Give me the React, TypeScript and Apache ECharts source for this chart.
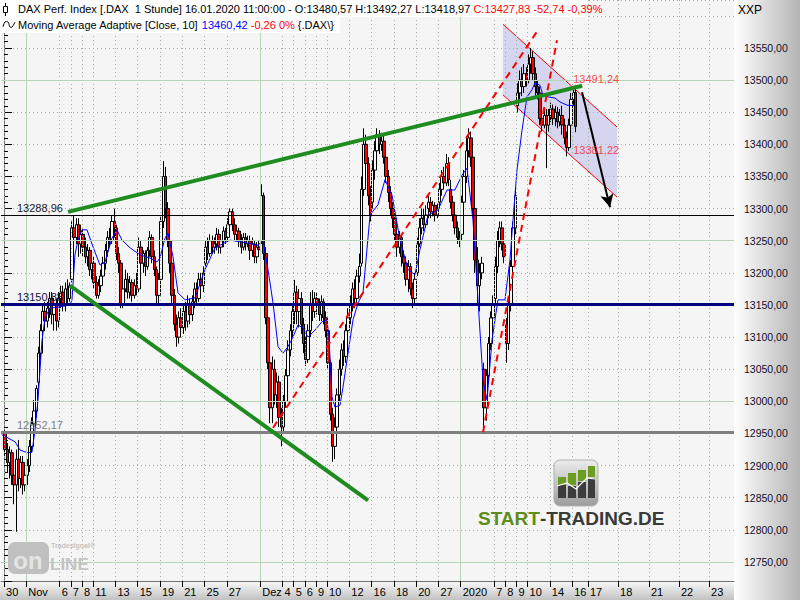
import React, { useEffect, useRef } from "react";
import * as echarts from "echarts";

const BARS_PER_DAY = 5;
const FONT = '"Liberation Sans", Arial, sans-serif';

// x axis: trading-day index (0 = 30 Oct 2019)
const tickDays = [0, 2, 5, 6, 7, 8, 10, 12, 14, 16, 18, 20, 23, 25, 26, 27, 28, 29, 31, 33, 35, 37, 39, 41, 44, 45, 46, 47, 49, 51, 52.42, 55.12, 57.89, 60.59, 63.29];
const tickLabels = ["30", "Nov", "6", "7", "8", "11", "13", "15", "19", "21", "25", "27", "Dez", "4", "5", "6", "9", "10", "12", "16", "18", "20", "27", "2020", "7", "8", "9", "10", "14", "16", "17", "18", "21", "22", "23"];
const monthTickDays = [2, 23, 41];
const majorLevels = [12750, 13000, 13250, 13500];

// hourly candles [open, close, low, high], 5 per trading day
const candles = [
  // 30 Oct
  [12950, 12925, 12915, 12955], [12925, 12905, 12890, 12935], [12905, 12920, 12880, 12930], [12920, 12885, 12870, 12925], [12885, 12870, 12840, 12900],
  // 31 Oct
  [12870, 12910, 12797, 12925], [12910, 12880, 12860, 12940], [12880, 12905, 12865, 12915], [12905, 12870, 12855, 12915], [12870, 12885, 12860, 12900],
  // 1 Nov
  [12885, 12900, 12870, 12910], [12900, 12930, 12890, 12940], [12930, 12965, 12920, 12975], [12965, 12985, 12950, 13002], [12985, 13020, 12975, 13025],
  // 4 Nov
  [13030, 13075, 13020, 13085], [13075, 13110, 13065, 13120], [13110, 13140, 13100, 13150], [13140, 13125, 13110, 13155], [13125, 13145, 13115, 13155],
  // 5 Nov
  [13145, 13160, 13130, 13170], [13160, 13135, 13120, 13170], [13135, 13150, 13110, 13160], [13150, 13125, 13110, 13160], [13125, 13160, 13115, 13170],
  // 6 Nov
  [13160, 13170, 13145, 13180], [13170, 13150, 13140, 13180], [13150, 13175, 13140, 13185], [13175, 13160, 13150, 13190], [13160, 13180, 13155, 13185],
  // 7 Nov
  [13190, 13270, 13185, 13280], [13270, 13255, 13240, 13289], [13255, 13275, 13245, 13285], [13275, 13245, 13225, 13285], [13245, 13260, 13230, 13275],
  // 8 Nov
  [13260, 13240, 13225, 13270], [13240, 13225, 13215, 13255], [13225, 13235, 13210, 13245], [13235, 13205, 13195, 13240], [13205, 13215, 13190, 13225],
  // 11 Nov
  [13215, 13185, 13175, 13225], [13185, 13165, 13160, 13195], [13165, 13180, 13160, 13190], [13180, 13195, 13170, 13205], [13195, 13215, 13185, 13225],
  // 12 Nov
  [13215, 13235, 13205, 13245], [13235, 13255, 13225, 13265], [13255, 13250, 13240, 13270], [13250, 13280, 13245, 13290], [13280, 13270, 13255, 13300],
  // 13 Nov
  [13270, 13230, 13220, 13275], [13230, 13215, 13200, 13240], [13215, 13150, 13145, 13220], [13150, 13175, 13145, 13185], [13175, 13190, 13170, 13205],
  // 14 Nov
  [13190, 13170, 13160, 13200], [13170, 13185, 13160, 13195], [13185, 13165, 13155, 13190], [13165, 13180, 13160, 13190], [13180, 13175, 13165, 13200],
  // 15 Nov
  [13175, 13240, 13170, 13255], [13240, 13215, 13205, 13250], [13215, 13230, 13200, 13235], [13230, 13210, 13195, 13235], [13210, 13235, 13205, 13240],
  // 18 Nov
  [13235, 13255, 13225, 13265], [13255, 13225, 13215, 13260], [13225, 13205, 13195, 13235], [13205, 13165, 13150, 13210], [13165, 13190, 13150, 13200],
  // 19 Nov
  [13190, 13280, 13185, 13290], [13280, 13350, 13270, 13374], [13350, 13300, 13285, 13365], [13300, 13250, 13240, 13310], [13250, 13215, 13200, 13260],
  // 20 Nov
  [13215, 13165, 13150, 13225], [13165, 13120, 13110, 13175], [13120, 13100, 13085, 13135], [13100, 13130, 13090, 13140], [13130, 13115, 13100, 13145],
  // 21 Nov
  [13115, 13140, 13105, 13150], [13140, 13125, 13110, 13155], [13125, 13150, 13115, 13165], [13150, 13135, 13120, 13160], [13135, 13155, 13125, 13165],
  // 22 Nov
  [13155, 13175, 13145, 13185], [13175, 13160, 13150, 13185], [13160, 13190, 13155, 13200], [13190, 13180, 13165, 13200], [13180, 13200, 13170, 13210],
  // 25 Nov
  [13215, 13240, 13210, 13250], [13240, 13230, 13220, 13255], [13230, 13250, 13225, 13260], [13250, 13240, 13230, 13258], [13240, 13245, 13230, 13255],
  // 26 Nov
  [13245, 13260, 13235, 13270], [13260, 13240, 13230, 13268], [13240, 13250, 13230, 13260], [13250, 13265, 13240, 13272], [13265, 13255, 13245, 13270],
  // 27 Nov
  [13255, 13275, 13250, 13285], [13275, 13295, 13265, 13300], [13295, 13275, 13265, 13300], [13275, 13260, 13250, 13285], [13260, 13265, 13250, 13275],
  // 28 Nov
  [13265, 13250, 13240, 13270], [13250, 13240, 13230, 13260], [13240, 13255, 13235, 13262], [13255, 13245, 13235, 13262], [13245, 13250, 13240, 13258],
  // 29 Nov
  [13250, 13235, 13220, 13258], [13235, 13245, 13225, 13255], [13245, 13225, 13215, 13250], [13225, 13240, 13215, 13248], [13240, 13236, 13225, 13250],
  // 2 Dec
  [13250, 13320, 13245, 13338], [13320, 13230, 13220, 13325], [13230, 13130, 13120, 13240], [13130, 13060, 13050, 13140], [13060, 12990, 12966, 13070],
  // 3 Dec
  [12990, 13050, 12966, 13070], [13050, 13010, 12995, 13065], [13010, 13030, 12990, 13045], [13030, 12975, 12960, 13040], [12975, 12960, 12930, 12990],
  // 4 Dec
  [12960, 13000, 12950, 13010], [13000, 13040, 12990, 13050], [13040, 13080, 13030, 13095], [13080, 13110, 13070, 13120], [13110, 13140, 13100, 13150],
  // 5 Dec
  [13140, 13170, 13120, 13189], [13170, 13140, 13120, 13180], [13140, 13160, 13115, 13175], [13160, 13120, 13105, 13170], [13120, 13090, 13075, 13130],
  // 6 Dec
  [13090, 13065, 13055, 13100], [13065, 13110, 13060, 13120], [13110, 13150, 13100, 13170], [13150, 13140, 13125, 13173], [13140, 13160, 13130, 13170],
  // 9 Dec
  [13160, 13150, 13135, 13170], [13150, 13135, 13125, 13160], [13135, 13155, 13125, 13165], [13155, 13130, 13120, 13160], [13130, 13110, 13100, 13140],
  // 10 Dec
  [13110, 13060, 13050, 13122], [13060, 12980, 12970, 13065], [12980, 12930, 12906, 12990], [12930, 12960, 12910, 12975], [12960, 13010, 12950, 13020],
  // 11 Dec
  [13010, 13050, 13000, 13065], [13050, 13080, 13040, 13090], [13080, 13070, 13055, 13095], [13070, 13110, 13060, 13120], [13110, 13130, 13100, 13145],
  // 12 Dec
  [13130, 13150, 13120, 13165], [13150, 13175, 13140, 13185], [13175, 13160, 13145, 13190], [13160, 13195, 13150, 13205], [13195, 13210, 13185, 13230],
  // 13 Dec
  [13215, 13330, 13210, 13350], [13330, 13400, 13320, 13425], [13400, 13370, 13350, 13415], [13370, 13320, 13305, 13380], [13320, 13290, 13280, 13335],
  // 16 Dec
  [13310, 13360, 13300, 13375], [13360, 13390, 13345, 13405], [13390, 13415, 13380, 13425], [13415, 13400, 13385, 13422], [13400, 13405, 13390, 13418],
  // 17 Dec
  [13405, 13380, 13370, 13415], [13380, 13350, 13340, 13390], [13350, 13325, 13310, 13360], [13325, 13300, 13290, 13335], [13300, 13285, 13270, 13310],
  // 18 Dec
  [13285, 13260, 13250, 13295], [13260, 13240, 13225, 13270], [13240, 13255, 13230, 13265], [13255, 13225, 13210, 13260], [13225, 13215, 13200, 13235],
  // 19 Dec
  [13215, 13190, 13180, 13225], [13190, 13210, 13170, 13220], [13210, 13175, 13165, 13215], [13175, 13160, 13145, 13185], [13160, 13190, 13150, 13200],
  // 20 Dec
  [13200, 13245, 13195, 13255], [13245, 13270, 13240, 13285], [13270, 13285, 13260, 13300], [13285, 13275, 13265, 13300], [13275, 13290, 13270, 13305],
  // 23 Dec
  [13300, 13310, 13285, 13320], [13310, 13295, 13285, 13318], [13295, 13305, 13288, 13312], [13305, 13290, 13280, 13310], [13290, 13300, 13285, 13308],
  // 27 Dec
  [13310, 13330, 13300, 13340], [13330, 13350, 13320, 13360], [13350, 13340, 13330, 13365], [13340, 13370, 13335, 13385], [13370, 13345, 13335, 13380],
  // 30 Dec
  [13330, 13310, 13300, 13345], [13310, 13290, 13280, 13320], [13290, 13270, 13260, 13300], [13270, 13255, 13245, 13280], [13255, 13250, 13240, 13265],
  // 2 Jan
  [13260, 13310, 13250, 13320], [13310, 13350, 13300, 13360], [13350, 13390, 13340, 13410], [13390, 13410, 13380, 13425], [13410, 13380, 13365, 13420],
  // 3 Jan
  [13380, 13300, 13290, 13385], [13300, 13220, 13200, 13310], [13220, 13180, 13150, 13240], [13180, 13200, 13140, 13215], [13200, 13215, 13190, 13225],
  // 6 Jan
  [13050, 12990, 12950, 13060], [12990, 13040, 12970, 13050], [13040, 13090, 13030, 13100], [13090, 13130, 13080, 13140], [13130, 13150, 13120, 13165],
  // 7 Jan
  [13160, 13210, 13150, 13225], [13210, 13250, 13200, 13265], [13250, 13270, 13240, 13280], [13270, 13245, 13235, 13280], [13245, 13225, 13215, 13255],
  // 8 Jan
  [13120, 13090, 13060, 13130], [13090, 13150, 13080, 13160], [13150, 13210, 13140, 13220], [13210, 13270, 13200, 13280], [13270, 13320, 13260, 13330],
  // 9 Jan
  [13460, 13480, 13450, 13495], [13480, 13500, 13470, 13515], [13500, 13490, 13475, 13520], [13490, 13510, 13480, 13525], [13510, 13500, 13490, 13520],
  // 10 Jan
  [13500, 13525, 13495, 13540], [13525, 13535, 13510, 13550], [13535, 13510, 13500, 13545], [13510, 13490, 13475, 13520], [13490, 13480, 13470, 13500],
  // 13 Jan
  [13480, 13440, 13430, 13490], [13440, 13430, 13420, 13455], [13430, 13445, 13425, 13458], [13445, 13430, 13363, 13455], [13430, 13445, 13420, 13455],
  // 14 Jan
  [13445, 13455, 13435, 13465], [13455, 13440, 13430, 13462], [13440, 13450, 13428, 13460], [13450, 13435, 13425, 13458], [13435, 13445, 13428, 13455],
  // 15 Jan
  [13445, 13430, 13415, 13460], [13430, 13410, 13400, 13440], [13410, 13395, 13381.22, 13420], [13395, 13430, 13390, 13440], [13430, 13470, 13425, 13480],
  // 16 Jan
  [13470, 13480.57, 13460, 13491], [13480.57, 13427.83, 13418.97, 13492.27],
];

// Moving Average Adaptive [Close, 10]: [day, value]
const maPoints = [
  [-0.2, 12948], [0.36, 12943], [1.0, 12937], [1.44, 12924], [2.15, 12920], [2.51, 12921], [2.78, 12955], [3.05, 13002],
  [3.23, 13049], [3.41, 13095], [3.68, 13130], [4.13, 13145], [5.03, 13147], [5.92, 13150], [6.1, 13158], [6.37, 13228],
  [6.64, 13251], [7.0, 13267], [7.45, 13267], [8.0, 13240], [8.62, 13212], [9.07, 13217], [9.69, 13254], [10.14, 13267],
  [10.59, 13251], [11.31, 13239], [12.21, 13228], [13.11, 13223], [13.73, 13217], [14.0, 13223], [14.45, 13254], [14.72, 13262],
  [15.17, 13225], [15.62, 13169], [16.25, 13158], [17.15, 13161], [18.04, 13205], [18.94, 13239], [20.29, 13251], [21.63, 13247],
  [22.8, 13243], [23.25, 13251], [23.7, 13205], [24.15, 13153], [24.6, 13085], [25.04, 13075], [25.49, 13085], [25.94, 13100],
  [26.39, 13119], [26.84, 13114], [27.29, 13100], [27.92, 13111], [28.55, 13124], [28.99, 13127], [29.17, 13100], [29.44, 13007],
  [29.71, 12991], [30.16, 12994], [30.43, 13022], [30.88, 13075], [31.33, 13127], [31.78, 13153], [32.23, 13169], [32.86, 13290],
  [33.57, 13306], [34.2, 13345], [34.83, 13321], [35.55, 13251], [36.27, 13205], [36.89, 13197], [37.34, 13236], [38.06, 13290],
  [38.96, 13298], [39.77, 13329], [40.48, 13329], [41.11, 13352], [41.56, 13363], [42.1, 13282], [42.55, 13158], [43.0, 13033],
  [43.36, 13002], [43.81, 13096], [44.34, 13158], [44.97, 13158], [45.42, 13220], [45.69, 13282], [46.05, 13360], [46.5, 13422],
  [46.95, 13474], [47.4, 13485], [47.67, 13496], [48.11, 13492], [48.38, 13477], [48.83, 13474], [49.46, 13472], [49.91, 13466],
  [50.54, 13461], [51.16, 13460.42],
];

// horizontal levels
const levelValues = [13288.96, 13150.88, 12952.17];

// drawn objects, in [day, value]
const upperTrend = [[5.75, 13295], [51.9, 13491.24]];
const lowerTrend = [[5.92, 13180], [32.68, 12846]];
const redDash1 = [[24.15, 12959], [47.94, 13578]];
const redDash2 = [[43.0, 12952], [49.64, 13562]];
const channel = [[44.79, 13587], [55.03, 13427], [55.03, 13318], [44.79, 13477]];
const arrowLine = [[51.89, 13481], [54.4, 13302]];
const priceMarks = [[51.1, 13491.24], [51.1, 13381.22]];

const fmt = (v: number) => v.toFixed(2).replace(".", ",");

const levelStyles = [
  { color: "#000000", width: 1, text: "#202020" },
  { color: "#000080", width: 3, text: "#101040" },
  { color: "#808080", width: 3, text: "#808080" },
];

function buildOption() {
  const candleData = candles.map((c, i) => [
    Math.floor(i / BARS_PER_DAY) + ((i % BARS_PER_DAY) + 0.5) / BARS_PER_DAY,
    c[0], c[1], c[2], c[3],
  ]);
  const labelMap = new Map<number, string>();
  tickDays.forEach((d, i) => labelMap.set(d, tickLabels[i]));

  const dotColor = "#9ab49a";
  const greenGrid = "#b9d4b9";

  const gridLines: any[] = [
    ...tickDays.filter((d) => !monthTickDays.includes(d)).map((d) => ({
      xAxis: d, lineStyle: { type: [1, 3], color: dotColor, width: 1 },
    })),
    ...monthTickDays.map((d) => ({ xAxis: d, lineStyle: { type: "solid", color: greenGrid, width: 1 } })),
    ...majorLevels.map((v) => ({ yAxis: v, lineStyle: { type: "solid", color: greenGrid, width: 1 } })),
  ];

  const levelMarks = levelValues.map((v, i) => ({
    yAxis: v,
    lineStyle: { type: "solid", color: levelStyles[i].color, width: levelStyles[i].width },
    label: {
      show: true, formatter: fmt(v), position: "insideStartTop", distance: [16, 2],
      color: levelStyles[i].text, fontSize: 11, fontFamily: FONT,
    },
  }));

  const G = echarts.graphic;

  return {
    animation: false,
    textStyle: { fontFamily: FONT },
    grid: { left: 1, right: 66, top: 0, bottom: 19, show: true, backgroundColor: "#f5f5f5", borderWidth: 0 },
    xAxis: {
      type: "value", min: -0.27, max: 65.53,
      axisLine: { show: true, lineStyle: { color: "#707070", width: 1 } },
      axisTick: { show: true, customValues: tickDays, length: 6, lineStyle: { color: "#000" } },
      axisLabel: {
        customValues: tickDays, formatter: (v: number) => labelMap.get(v) ?? "",
        align: "left", padding: [0, 0, 0, 2], margin: 5, color: "#000", fontSize: 11, fontFamily: FONT,
      },
      splitLine: { show: false },
    },
    yAxis: {
      type: "value", position: "right", min: 12720.4, max: 13624.7, minInterval: 50, maxInterval: 50, splitNumber: 18,
      axisLine: { show: true, lineStyle: { color: "#707070", width: 1 } },
      axisTick: { show: true, length: 8, lineStyle: { color: "#000" } },
      minorTick: { show: true, splitNumber: 5, length: 4, lineStyle: { color: "#000" } },
      axisLabel: {
        formatter: (v: number) => (v > 13570 || v < 12740 ? "" : fmt(v)),
        showMinLabel: false, showMaxLabel: false, margin: 10, color: "#14102e", fontSize: 10.5, fontFamily: FONT,
      },
      splitLine: { show: true, lineStyle: { type: [1, 3], color: dotColor, width: 1 } },
      minorSplitLine: { show: false },
    },
    graphic: [
      { type: "rect", z: -1, shape: { x: 734, y: 0, width: 66, height: 600 }, silent: true,
        style: { fill: new G.LinearGradient(0, 0, 1, 0, [{ offset: 0, color: "#ffffff" }, { offset: 1, color: "#b4b4b4" }]) } },
      { type: "rect", z: -1, shape: { x: 0, y: 582, width: 734, height: 18 }, silent: true,
        style: { fill: new G.LinearGradient(0, 0, 0, 1, [{ offset: 0, color: "#f6f6f6" }, { offset: 1, color: "#c2c2c2" }]) } },
      { type: "rect", z: 50, shape: { x: 0, y: 0, width: 588, height: 17 }, style: { fill: "#ffffff" }, silent: true },
      { type: "rect", z: 50, shape: { x: 0, y: 17, width: 340, height: 16 }, style: { fill: "#ffffff" }, silent: true },
      // candle icon
      { type: "line", z: 51, shape: { x1: 5.5, y1: 3, x2: 5.5, y2: 16 }, style: { stroke: "#000", lineWidth: 1 } },
      { type: "rect", z: 52, shape: { x: 3.5, y: 6.5, width: 4, height: 6 }, style: { fill: "#fff", stroke: "#000", lineWidth: 1 } },
      // wave icon
      { type: "polyline", z: 51, shape: { points: [[3, 27], [5, 22], [8, 22], [10, 27], [12, 27], [15, 22]], smooth: 0.4 },
        style: { stroke: "#000", lineWidth: 1, fill: null } },
      {
        type: "text", z: 52, x: 18, y: 9,
        style: {
          text: "{k|DAX Perf. Index [.DAX  1 Stunde] 16.01.2020 11:00:00 - O:13480,57 H:13492,27 L:13418,97 }{r|C:13427,83 -52,74 -0,39%}",
          font: `11px ${FONT}`, verticalAlign: "middle", align: "left",
          rich: { k: { fill: "#000000", fontSize: 11 }, r: { fill: "#ff0000", fontSize: 11 } },
        },
      },
      {
        type: "text", z: 52, x: 18, y: 25,
        style: {
          text: "{k|Moving Average Adaptive [Close, 10] }{b|13460,42}{r| -0,26 0%}{k| {.DAX\\}}",
          font: `11px ${FONT}`, verticalAlign: "middle", align: "left",
          rich: { k: { fill: "#000000", fontSize: 11 }, b: { fill: "#0000ff", fontSize: 11 }, r: { fill: "#ff0000", fontSize: 11 } },
        },
      },
      { type: "text", z: 52, x: 738, y: 10, style: { text: "XXP", font: `12px ${FONT}`, fill: "#000", verticalAlign: "middle" } },
      // START-TRADING logo
      { type: "rect", z: 40, shape: { x: 554, y: 460, width: 44, height: 46, r: 6 },
        style: { fill: new G.LinearGradient(0, 0, 0, 1, [{ offset: 0, color: "#ececec" }, { offset: 1, color: "#9c9c9c" }]), stroke: "#b0b0b0", lineWidth: 1 } },
      { type: "rect", z: 41, shape: { x: 558, y: 477, width: 8, height: 8 }, style: { fill: "#6c9c20" } },
      { type: "rect", z: 41, shape: { x: 558, y: 485, width: 8, height: 13 }, style: { fill: "#3c3c3c" } },
      { type: "rect", z: 41, shape: { x: 568, y: 473, width: 8, height: 12 }, style: { fill: "#6c9c20" } },
      { type: "rect", z: 41, shape: { x: 568, y: 486, width: 8, height: 12 }, style: { fill: "#3c3c3c" } },
      { type: "rect", z: 41, shape: { x: 578, y: 470, width: 8, height: 11 }, style: { fill: "#6c9c20" } },
      { type: "rect", z: 41, shape: { x: 578, y: 482, width: 8, height: 16 }, style: { fill: "#3c3c3c" } },
      { type: "rect", z: 41, shape: { x: 588, y: 466, width: 7, height: 11 }, style: { fill: "#6c9c20" } },
      { type: "rect", z: 41, shape: { x: 588, y: 478, width: 7, height: 20 }, style: { fill: "#3c3c3c" } },
      { type: "polyline", z: 42, shape: { points: [[557, 486], [567, 483], [576, 489], [587, 478], [595, 479]] },
        style: { stroke: "#ffffff", lineWidth: 1.2, fill: null } },
      {
        type: "text", z: 42, x: 478, y: 518,
        style: {
          text: "{g|START}{d|-TRADING.DE}", font: `bold 19px ${FONT}`, verticalAlign: "middle", align: "left",
          rich: { g: { fill: "#5f8d1c", fontSize: 19, fontWeight: "bold" }, d: { fill: "#3a3a3a", fontSize: 19, fontWeight: "bold" } },
        },
      },
      // Tradesignal online watermark
      { type: "rect", z: 40, shape: { x: 8, y: 542, width: 41, height: 32, r: 7 }, style: { fill: "#c0c0c0" } },
      { type: "text", z: 41, x: 28, y: 560, style: { text: "on", font: `bold 24px ${FONT}`, fill: "#e4e4e4", align: "center", verticalAlign: "middle" } },
      { type: "text", z: 41, x: 50, y: 564, style: { text: "LINE", font: `bold 17px ${FONT}`, fill: "#c4c4c4", align: "left", verticalAlign: "middle" } },
      { type: "text", z: 41, x: 51, y: 545, style: { text: "Tradesignal®", font: `bold 7px ${FONT}`, fill: "#c4c4c4", align: "left", verticalAlign: "middle" } },
    ],
    series: [
      {
        type: "line", data: [], z: 1, silent: true,
        markLine: { silent: true, symbol: "none", animation: false, label: { show: false }, data: gridLines },
      },
      {
        type: "custom", z: 2, silent: true, data: [[50, 13400]],
        renderItem: (_p: any, api: any) => {
          const pts = channel.map((c) => api.coord(c));
          return {
            type: "group",
            children: [
              { type: "polygon", shape: { points: pts }, style: { fill: "rgba(175,175,235,0.45)" } },
              { type: "line", shape: { x1: pts[0][0], y1: pts[0][1], x2: pts[1][0], y2: pts[1][1] }, style: { stroke: "#ff0000", lineWidth: 1 } },
              { type: "line", shape: { x1: pts[3][0], y1: pts[3][1], x2: pts[2][0], y2: pts[2][1] }, style: { stroke: "#ff0000", lineWidth: 1 } },
            ],
          };
        },
      },
      {
        type: "line", data: [], z: 2, silent: true,
        markLine: { silent: true, symbol: "none", animation: false, data: levelMarks },
      },
      {
        type: "candlestick", z: 3, silent: true, data: candleData, encode: { x: 0, y: [1, 2, 3, 4] }, barWidth: 3,
        itemStyle: { color: "#ffffff", color0: "#ff0000", borderColor: "#000000", borderColor0: "#000000", borderColorDoji: "#000000", borderWidth: 1 },
      },
      {
        type: "line", z: 4, silent: true, data: maPoints, showSymbol: false, symbol: "none",
        lineStyle: { color: "#0000ff", width: 1 },
      },
      { type: "line", z: 5, silent: true, data: redDash1, symbol: "none", lineStyle: { color: "#ff0000", width: 2, type: [7, 5] } },
      { type: "line", z: 5, silent: true, data: redDash2, symbol: "none", lineStyle: { color: "#ff0000", width: 2, type: [7, 5] } },
      { type: "line", z: 6, silent: true, data: upperTrend, symbol: "none", lineStyle: { color: "#1f8c1f", width: 4 } },
      { type: "line", z: 6, silent: true, data: lowerTrend, symbol: "none", lineStyle: { color: "#1f8c1f", width: 4 } },
      {
        type: "line", data: [], z: 7, silent: true,
        markLine: {
          silent: true, animation: false, symbol: ["none", "arrow"], symbolSize: [10, 13], label: { show: false },
          lineStyle: { color: "#000000", width: 2, type: "solid" },
          data: [[{ coord: arrowLine[0] }, { coord: arrowLine[1] }]],
        },
      },
      {
        type: "scatter", z: 8, silent: true, data: priceMarks, symbolSize: 0,
        label: {
          show: true, position: "right", distance: 0, offset: [0, -6.5],
          formatter: (p: any) => fmt(p.value[1]), color: "#ff2020", fontSize: 11, fontFamily: FONT,
        },
      },
    ],
  };
}

export default function App() {
  const ref = useRef<HTMLDivElement>(null);
  useEffect(() => {
    const chart = echarts.init(ref.current!, null, { renderer: "svg" });
    chart.setOption(buildOption() as any);
    return () => chart.dispose();
  }, []);
  return <div ref={ref} style={{ position: "fixed", left: 0, top: 0, width: 800, height: 600, background: "#ffffff" }} />;
}
